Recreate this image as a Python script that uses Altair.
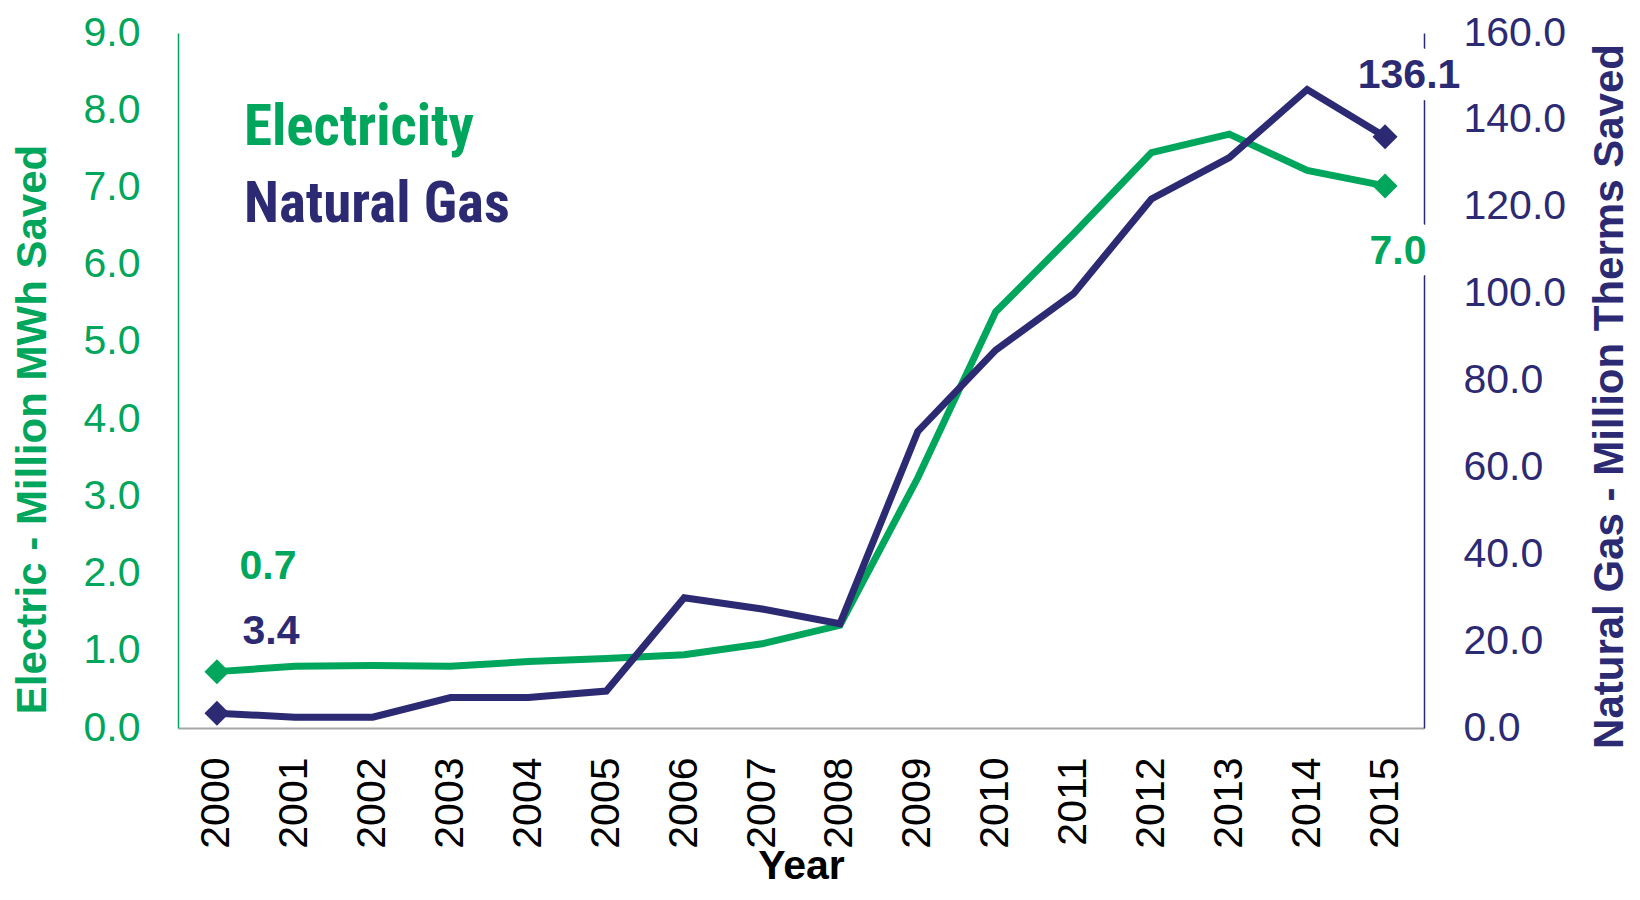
import altair as alt
import pandas as pd

# ---- data ----
years = list(range(2000, 2016))
electric = [0.73, 0.80, 0.81, 0.80, 0.86, 0.90, 0.95, 1.09, 1.33, 3.24, 5.39, 6.40, 7.45, 7.69, 7.22, 7.02]
gas = [3.4, 2.5, 2.5, 7.0, 7.0, 8.5, 30.0, 27.4, 24.0, 68.3, 87.0, 100.0, 121.8, 131.3, 147.0, 136.1]
electric_ticks = [0, 1, 2, 3, 4, 5, 6, 7, 8, 9]
gas_ticks = [0, 20, 40, 60, 80, 100, 120, 140, 160]
legend_labels = ["Electricity", "Natural Gas"]
endpoint_years = [2000, 2015]

GREEN = "#00A65B"
NAVY = "#2B2A72"
FONT = "Liberation Sans"
LEGEND_FONT = ("Roboto Condensed, Noto Sans ExtraCondensed, Noto Sans Display ExtraCondensed, "
               "Noto Sans Condensed, Liberation Sans Narrow, DejaVu Sans Condensed, sans-serif")

df_e = pd.DataFrame({"Year": years, "Electric": electric})
df_g = pd.DataFrame({"Year": years, "Gas": gas})

x = alt.X(
    "Year:Q",
    scale=alt.Scale(domain=[1999.5, 2015.5], nice=False, zero=False),
    axis=alt.Axis(
        values=years, format="d", labelAngle=270, labelFontSize=41, labelFont=FONT,
        labelColor="black", labelPadding=29, labelFlush=False, labelOverlap=False,
        ticks=False, grid=False, domainColor="#A6A6A6", domainWidth=2,
        title="Year", titleFont=FONT, titleFontSize=41, titleFontWeight="bold",
        titleColor="black", titleY=150, titleBaseline="alphabetic", zindex=0,
    ),
)

y_e = alt.Y(
    "Electric:Q",
    scale=alt.Scale(domain=[0, 9], nice=False),
    axis=alt.Axis(
        orient="left", values=electric_ticks, format=".1f", labelFontSize=41, labelFont=FONT,
        labelColor=GREEN, labelPadding=38, ticks=False, grid=False, domainColor=GREEN,
        domainWidth=1.5, title="Electric - Million MWh Saved", titleFont=FONT,
        titleFontSize=42, titleFontWeight="bold", titleColor=GREEN, titleAngle=270,
        titleX=-133, titleY=396, titleAlign="center", titleBaseline="alphabetic", zindex=0,
    ),
)

y_g = alt.Y(
    "Gas:Q",
    scale=alt.Scale(domain=[0, 160], nice=False),
    axis=alt.Axis(
        orient="right", values=gas_ticks, format=".1f", labelFontSize=41, labelFont=FONT,
        labelColor=NAVY, labelPadding=39, ticks=False, grid=False, domainColor=NAVY,
        domainWidth=1.5, title="Natural Gas - Million Therms Saved", titleFont=FONT,
        titleFontSize=42, titleFontWeight="bold", titleColor=NAVY, titleAngle=270,
        titleX=198, titleY=363, titleAlign="center", titleBaseline="alphabetic", zindex=0,
    ),
)

ends = alt.FieldOneOfPredicate(field="Year", oneOf=endpoint_years)


def label(df, field, y, color, year, dx, dy, halo=False):
    kw = dict(font=FONT, fontSize=41, fontWeight="bold", align="center", baseline="middle", dx=dx, dy=dy)
    if halo:
        kw.update(fill="white", stroke="white", strokeWidth=26, strokeJoin="round")
    else:
        kw.update(color=color)
    return (
        alt.Chart(df)
        .mark_text(**kw)
        .encode(x=x, y=y, text=alt.Text(f"{field}:Q", format=".1f"))
        .transform_filter(alt.datum.Year == year)
    )


leg_e = alt.Chart(pd.DataFrame({"label": [legend_labels[0]]})).mark_text(
    font=LEGEND_FONT, fontSize=57, fontWeight="bold", color=GREEN, align="left", baseline="alphabetic"
).encode(text="label:N", x=alt.value(66), y=alt.value(112))
leg_g = alt.Chart(pd.DataFrame({"label": [legend_labels[1]]})).mark_text(
    font=LEGEND_FONT, fontSize=57, fontWeight="bold", color=NAVY, align="left", baseline="alphabetic"
).encode(text="label:N", x=alt.value(66), y=alt.value(189))

elec = alt.layer(
    label(df_e, "Electric", y_e, GREEN, 2015, 13, 66, halo=True),
    alt.Chart(df_e).mark_line(color=GREEN, strokeWidth=7).encode(x=x, y=y_e),
    alt.Chart(df_e).mark_point(shape="diamond", filled=True, size=625, opacity=1, color=GREEN)
    .encode(x=x, y=y_e).transform_filter(ends),
    label(df_e, "Electric", y_e, GREEN, 2000, 51, -105),
    label(df_e, "Electric", y_e, GREEN, 2015, 13, 66),
    leg_e,
    leg_g,
)

gasl = alt.layer(
    label(df_g, "Gas", y_g, NAVY, 2015, 24, -61, halo=True),
    alt.Chart(df_g).mark_line(color=NAVY, strokeWidth=7).encode(x=x, y=y_g),
    alt.Chart(df_g).mark_point(shape="diamond", filled=True, size=625, opacity=1, color=NAVY)
    .encode(x=x, y=y_g).transform_filter(ends),
    label(df_g, "Gas", y_g, NAVY, 2000, 54, -81),
    label(df_g, "Gas", y_g, NAVY, 2015, 24, -61),
)

chart = (
    alt.layer(elec, gasl)
    .resolve_scale(y="independent")
    .properties(
        width=1246,
        height=695,
        padding={"left": 170, "top": 25, "right": 206, "bottom": 158},
        autosize=alt.AutoSizeParams(type="none"),
        background="white",
    )
    .configure_view(stroke=None)
)

chart.save("out.html", embed_options={"renderer": "svg", "actions": False})
